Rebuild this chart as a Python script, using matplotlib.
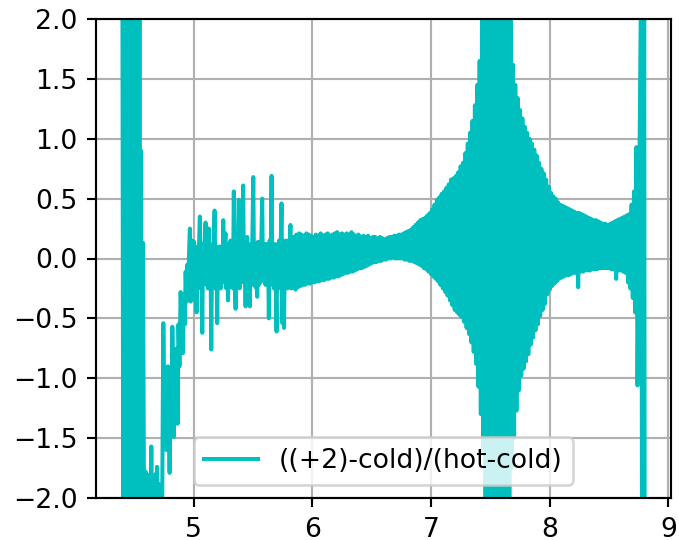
import numpy as np
import matplotlib
matplotlib.use("Agg")
from matplotlib import pyplot as plt

# ---- data ----
# left edge: saturated band, then the low plateau near -2
x_left = [4.400, 4.408, 4.416, 4.424, 4.432, 4.440, 4.448, 4.456, 4.464, 4.472,
          4.480, 4.488, 4.496, 4.504, 4.512, 4.520, 4.528, 4.536, 4.544, 4.552,
          4.558, 4.566, 4.574, 4.584, 4.596, 4.602, 4.608, 4.614, 4.620, 4.626,
          4.632, 4.638, 4.644, 4.650, 4.656, 4.662, 4.668, 4.674, 4.680, 4.686,
          4.692, 4.698, 4.704, 4.710, 4.716, 4.722, 4.728, 4.734]
y_left = [2.6, -2.7, 2.9, -2.8, 3.0, -3.0, 2.8, -2.9, 3.1, -2.8,
          2.9, -3.0, 2.7, -2.9, 3.0, -2.8, 2.8, -2.7, 2.6, -2.6,
          0.90, -2.4, 0.13, -2.5, -1.78, -2.4, -1.80, -2.5, -1.82, -2.4,
          -1.85, -2.3, -1.57, -2.4, -1.82, -2.5, -1.85, -2.4, -1.80, -2.3,
          -1.74, -2.4, -1.88, -2.5, -1.90, -2.4, -1.95, -2.3]

# rising, spiky part (4.74 .. 5.87)
x_rise = [4.745, 4.755, 4.765, 4.772, 4.784, 4.798, 4.808, 4.814, 4.821, 4.834,
          4.842, 4.849, 4.857, 4.865, 4.873, 4.881, 4.891, 4.900, 4.910, 4.918,
          4.926, 4.933, 4.941, 4.948, 4.955, 4.962, 4.969, 4.975, 4.982, 4.989,
          4.996, 5.003, 5.010, 5.017, 5.025, 5.032, 5.039, 5.046, 5.053, 5.060,
          5.066, 5.073, 5.080, 5.087, 5.094, 5.101, 5.108, 5.115, 5.122, 5.129,
          5.136, 5.142, 5.149, 5.156, 5.163, 5.170, 5.177, 5.185, 5.192, 5.199,
          5.206, 5.213, 5.220, 5.228, 5.235, 5.243, 5.250, 5.257, 5.263, 5.269,
          5.276, 5.283, 5.290, 5.297, 5.304, 5.311, 5.318, 5.325, 5.332, 5.339,
          5.346, 5.354, 5.361, 5.368, 5.374, 5.381, 5.388, 5.395, 5.402, 5.410,
          5.418, 5.425, 5.431, 5.438, 5.445, 5.452, 5.459, 5.466, 5.474, 5.481,
          5.488, 5.495, 5.503, 5.510, 5.516, 5.522, 5.529, 5.536, 5.543, 5.550,
          5.557, 5.564, 5.571, 5.578, 5.585, 5.592, 5.599, 5.606, 5.613, 5.620,
          5.627, 5.634, 5.641, 5.648, 5.657, 5.664, 5.671, 5.678, 5.685, 5.692,
          5.699, 5.706, 5.713, 5.720, 5.727, 5.734, 5.741, 5.748, 5.755, 5.762,
          5.769, 5.776, 5.783, 5.790, 5.797, 5.804, 5.811, 5.816, 5.823, 5.830,
          5.837, 5.844, 5.852, 5.859, 5.866]
y_rise = [-0.54, -1.30, -0.95, -1.60, -0.90, -1.79, -1.05, -1.45, -0.57, -1.49,
          -0.80, -1.20, -0.75, -1.38, -0.55, -0.90, -0.28, -0.60, -0.79, -0.30,
          -0.55, -0.11, -0.36, -0.05, -0.30, 0.05, 0.25, -0.36, 0.08, 0.15,
          -0.25, 0.14, -0.35, 0.10, -0.45, 0.05, -0.20, 0.12, 0.35, -0.25,
          0.10, -0.62, 0.12, -0.20, 0.15, 0.30, -0.22, 0.10, -0.25, 0.25,
          -0.20, 0.12, -0.76, 0.05, -0.20, 0.12, 0.40, -0.25, 0.10, -0.54,
          0.08, -0.22, 0.10, -0.25, 0.08, -0.20, 0.32, -0.20, 0.12, 0.21,
          -0.25, 0.10, -0.35, 0.12, -0.24, 0.15, -0.22, 0.10, -0.25, 0.56,
          -0.15, -0.42, 0.12, -0.22, 0.15, 0.49, -0.25, 0.12, -0.20, 0.15,
          0.61, -0.20, 0.12, -0.40, 0.15, 0.18, -0.25, 0.10, -0.40, 0.12,
          -0.22, 0.15, 0.68, -0.20, 0.12, -0.24, 0.10, -0.32, 0.14, -0.22,
          0.12, -0.20, 0.15, 0.50, -0.18, -0.15, 0.12, -0.22, 0.12, -0.20,
          0.10, -0.50, 0.15, -0.15, 0.69, -0.22, 0.10, -0.25, 0.12, -0.20,
          -0.61, 0.12, -0.22, 0.15, -0.25, 0.12, 0.46, -0.54, 0.15, -0.58,
          0.12, -0.22, 0.15, -0.25, 0.12, -0.24, 0.15, 0.28, -0.25, 0.15,
          -0.24, 0.18, -0.22, -0.26, 0.20]

# dense oscillating band (5.88 .. 8.74), one sample every 0.01
x_band = [5.88, 5.89, 5.90, 5.91, 5.92, 5.93, 5.94, 5.95, 5.96, 5.97,
          5.98, 5.99, 6.00, 6.01, 6.02, 6.03, 6.04, 6.05, 6.06, 6.07,
          6.08, 6.09, 6.10, 6.11, 6.12, 6.13, 6.14, 6.15, 6.16, 6.17,
          6.18, 6.19, 6.20, 6.21, 6.22, 6.23, 6.24, 6.25, 6.26, 6.27,
          6.28, 6.29, 6.30, 6.31, 6.32, 6.33, 6.34, 6.35, 6.36, 6.37,
          6.38, 6.39, 6.40, 6.41, 6.42, 6.43, 6.44, 6.45, 6.46, 6.47,
          6.48, 6.49, 6.50, 6.51, 6.52, 6.53, 6.54, 6.55, 6.56, 6.57,
          6.58, 6.59, 6.60, 6.61, 6.62, 6.63, 6.64, 6.65, 6.66, 6.67,
          6.68, 6.69, 6.70, 6.71, 6.72, 6.73, 6.74, 6.75, 6.76, 6.77,
          6.78, 6.79, 6.80, 6.81, 6.82, 6.83, 6.84, 6.85, 6.86, 6.87,
          6.88, 6.89, 6.90, 6.91, 6.92, 6.93, 6.94, 6.95, 6.96, 6.97,
          6.98, 6.99, 7.00, 7.01, 7.02, 7.03, 7.04, 7.05, 7.06, 7.07,
          7.08, 7.09, 7.10, 7.11, 7.12, 7.13, 7.14, 7.15, 7.16, 7.17,
          7.18, 7.19, 7.20, 7.21, 7.22, 7.23, 7.24, 7.25, 7.26, 7.27,
          7.28, 7.29, 7.30, 7.31, 7.32, 7.33, 7.34, 7.35, 7.36, 7.37,
          7.38, 7.39, 7.40, 7.41, 7.42, 7.43, 7.44, 7.45, 7.46, 7.47,
          7.48, 7.49, 7.50, 7.51, 7.52, 7.53, 7.54, 7.55, 7.56, 7.57,
          7.58, 7.59, 7.60, 7.61, 7.62, 7.63, 7.64, 7.65, 7.66, 7.67,
          7.68, 7.69, 7.70, 7.71, 7.72, 7.73, 7.74, 7.75, 7.76, 7.77,
          7.78, 7.79, 7.80, 7.81, 7.82, 7.83, 7.84, 7.85, 7.86, 7.87,
          7.88, 7.89, 7.90, 7.91, 7.92, 7.93, 7.94, 7.95, 7.96, 7.97,
          7.98, 7.99, 8.00, 8.01, 8.02, 8.03, 8.04, 8.05, 8.06, 8.07,
          8.08, 8.09, 8.10, 8.11, 8.12, 8.13, 8.14, 8.15, 8.16, 8.17,
          8.18, 8.19, 8.20, 8.21, 8.22, 8.23, 8.24, 8.25, 8.26, 8.27,
          8.28, 8.29, 8.30, 8.31, 8.32, 8.33, 8.34, 8.35, 8.36, 8.37,
          8.38, 8.39, 8.40, 8.41, 8.42, 8.43, 8.44, 8.45, 8.46, 8.47,
          8.48, 8.49, 8.50, 8.51, 8.52, 8.53, 8.54, 8.55, 8.56, 8.57,
          8.58, 8.59, 8.60, 8.61, 8.62, 8.63, 8.64, 8.65, 8.66, 8.67,
          8.68, 8.69, 8.70, 8.71, 8.72, 8.73, 8.74]
y_band = [-0.24, 0.21, -0.23, 0.20, -0.22, 0.19, -0.22, 0.21, -0.21, 0.20,
          -0.21, 0.19, -0.20, 0.18, -0.20, 0.20, -0.19, 0.19, -0.19, 0.21,
          -0.18, 0.19, -0.18, 0.20, -0.17, 0.21, -0.17, 0.19, -0.16, 0.20,
          -0.16, 0.21, -0.15, 0.22, -0.15, 0.20, -0.14, 0.21, -0.13, 0.20,
          -0.12, 0.21, -0.12, 0.20, -0.11, 0.22, -0.11, 0.20, -0.10, 0.19,
          -0.09, 0.20, -0.08, 0.18, -0.08, 0.19, -0.07, 0.18, -0.06, 0.19,
          -0.05, 0.17, -0.04, 0.18, -0.03, 0.18, -0.03, 0.17, -0.02, 0.18,
          -0.02, 0.17, -0.01, 0.16, -0.01, 0.17, 0.00, 0.18, 0.00, 0.18,
          0.01, 0.19, 0.00, 0.19, 0.00, 0.20, 0.00, 0.20, 0.00, 0.21,
          -0.01, 0.22, -0.01, 0.23, -0.02, 0.24, -0.02, 0.26, -0.03, 0.28,
          -0.04, 0.30, -0.05, 0.32, -0.06, 0.33, -0.08, 0.34, -0.09, 0.36,
          -0.11, 0.38, -0.13, 0.41, -0.15, 0.45, -0.17, 0.49, -0.19, 0.51,
          -0.22, 0.54, -0.25, 0.56, -0.28, 0.59, -0.31, 0.62, -0.35, 0.66,
          -0.39, 0.67, -0.43, 0.69, -0.45, 0.72, -0.47, 0.77, -0.49, 0.80,
          -0.53, 0.88, -0.58, 0.96, -0.63, 1.05, -0.70, 1.15, -0.78, 1.28,
          -0.88, 1.45, -1.07, 1.65, -1.30, 2.05, -1.60, 2.6, -2.3, 2.8,
          -2.7, 2.9, -2.8, 3.0, -2.9, 3.1, -3.0, 3.0, -2.9, 2.9,
          -2.9, 2.8, -2.8, 2.7, -2.6, 2.6, -2.4, 2.5, -2.2, 2.3,
          -1.75, 1.62, -1.50, 1.45, -1.27, 1.34, -1.10, 1.24, -0.98, 1.17,
          -0.92, 1.10, -0.86, 1.05, -0.80, 1.00, -0.72, 0.96, -0.66, 0.91,
          -0.60, 0.86, -0.55, 0.80, -0.48, 0.75, -0.43, 0.71, -0.38, 0.66,
          -0.30, 0.60, -0.26, 0.55, -0.23, 0.52, -0.21, 0.50, -0.19, 0.47,
          -0.17, 0.45, -0.16, 0.44, -0.15, 0.43, -0.14, 0.42, -0.14, 0.41,
          -0.13, 0.40, -0.12, 0.39, -0.12, 0.38, -0.24, 0.38, -0.11, 0.37,
          -0.11, 0.36, -0.10, 0.35, -0.10, 0.34, -0.10, 0.33, -0.09, 0.32,
          -0.09, 0.32, -0.09, 0.31, -0.08, 0.30, -0.08, 0.29, -0.08, 0.29,
          -0.08, 0.28, -0.08, 0.29, -0.09, 0.30, -0.09, 0.31, -0.17, 0.32,
          -0.10, 0.33, -0.10, 0.34, -0.11, 0.35, -0.12, 0.36, -0.20, 0.37,
          -0.25, 0.45, -0.33, 0.56, -0.45, 0.93, -1.06]

# right edge: second saturated band
x_right = [8.772, 8.778, 8.784, 8.790, 8.796, 8.800]
y_right = [2.6, -2.8, 2.9, -2.9, 2.7, -2.5]

x = np.concatenate([x_left, x_rise, x_band, x_right])
y = np.concatenate([y_left, y_rise, y_band, y_right])

fig = plt.figure(figsize=(679 / 192, 540 / 192), dpi=192)
ax = fig.add_axes([96 / 679, 42 / 540, 575 / 679, 479 / 540])

ax.plot(x, y, color="c", label="((+2)-cold)/(hot-cold)")
ax.set_xlim(4.178, 9.022)
ax.set_ylim(-2, 2)
ax.set_yticks(np.arange(-2.0, 2.01, 0.5))
ax.grid(True)
ax.legend(loc="lower center")

fig.savefig("out.png", dpi=192)
